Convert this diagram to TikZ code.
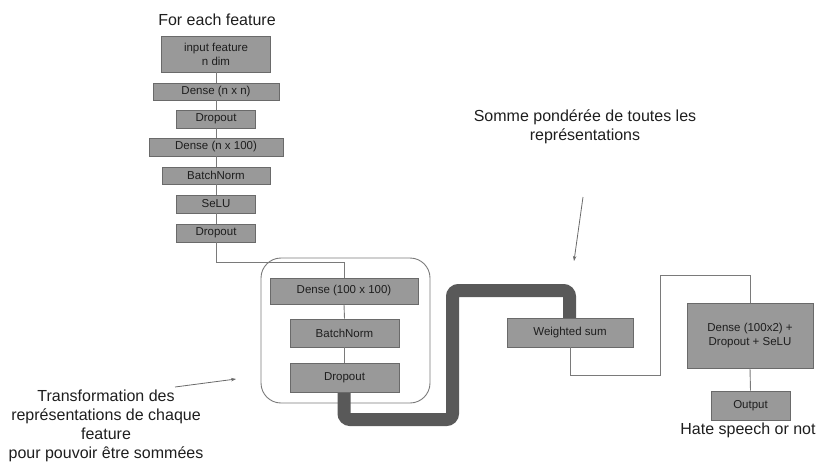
\documentclass[tikz,border=0pt]{standalone}
\usepackage{fontspec}
\setmainfont{Liberation Sans}
\usetikzlibrary{arrows.meta}
\definecolor{boxfill}{HTML}{999999}
\definecolor{boxedge}{HTML}{6A6A6A}
\definecolor{wire}{HTML}{7A7A7A}
\definecolor{thick}{HTML}{595959}
\definecolor{ink}{HTML}{1E1E1E}
\tikzset{
  blk/.style={draw=boxedge, fill=boxfill, line width=0.8pt, inner sep=0pt,
    text=ink, font=\fontsize{11.5}{14}\selectfont, align=center},
  wirel/.style={draw=wire, line width=0.9pt},
  flow/.style={draw=thick, line width=13pt, rounded corners=6pt},
  note/.style={text=ink, font=\fontsize{16}{19}\selectfont, align=center},
  pointer/.style={draw=boxedge, line width=0.8pt, -{Stealth[length=5pt,width=3.5pt]}}
}
\begin{document}
\begin{tikzpicture}[x=1pt,y=-1pt]
\useasboundingbox (0,0) rectangle (821,461);

% per-feature branch
\node[note] (title) at (217,20) {For each feature};
\node[blk, minimum width=109pt, minimum height=36pt] (in) at (216,54) {input feature\\n dim};
\node[blk, minimum width=126pt, minimum height=17pt] (d1) at (216,91.5) {Dense (n x n)};
\node[blk, minimum width=79pt, minimum height=18pt] (dr1) at (216,119) {Dropout};
\node[blk, minimum width=134pt, minimum height=18pt] (d2) at (216,147) {Dense (n x 100)};
\node[blk, minimum width=108pt, minimum height=17pt] (bn1) at (216,175.5) {BatchNorm};
\node[blk, minimum width=79pt, minimum height=18pt] (selu) at (216,204) {SeLU};
\node[blk, minimum width=79pt, minimum height=18pt] (dr2) at (216,233) {Dropout};
\foreach \a/\b in {in/d1, d1/dr1, dr1/d2, d2/bn1, bn1/selu, selu/dr2}
  \draw[wirel] (\a.south) -- (\b.north);

% shared transformation block
\draw[draw=wire, line width=0.9pt, rounded corners=20pt] (261,258) rectangle (430,403);
\coordinate (c1) at (216,262);
\coordinate (c2) at (344,262);
\draw[wirel] (dr2.south) -- (c1) -- (c2) -- (344,278);

% thick path from the block to the weighted sum
\coordinate (t1) at (344,419.5);
\coordinate (t2) at (452.5,419.5);
\coordinate (t3) at (452.5,290.5);
\coordinate (t4) at (569.5,290.5);
\draw[flow] (344,385) -- (t1) -- (t2) -- (t3) -- (t4) -- (569.5,325);

\node[blk, minimum width=148pt, minimum height=26pt] (d3) at (344,291) {Dense (100 x 100)};
\node[blk, minimum width=109pt, minimum height=28pt] (bn2) at (344.5,333) {BatchNorm};
\node[blk, minimum width=109pt, minimum height=29pt] (dr3) at (344.5,377.5) {Dropout};
\draw[wirel] (d3.south) -- (bn2.north);
\draw[wirel] (bn2.south) -- (dr3.north);

% aggregation and output
\node[blk, minimum width=126pt, minimum height=29pt] (ws) at (570,332.5) {Weighted sum};
\node[blk, minimum width=126pt, minimum height=65pt] (dx) at (750,335.5) {Dense (100x2) +\\Dropout + SeLU};
\node[blk, minimum width=79pt, minimum height=29pt] (out) at (750.5,405.5) {Output};
\coordinate (w1) at (570,375);
\coordinate (w2) at (660,375);
\coordinate (w3) at (660,275);
\coordinate (w4) at (750,275);
\draw[wirel] (ws.south) -- (w1) -- (w2) -- (w3) -- (w4) -- (dx.north);
\draw[wirel] (dx.south) -- (out.north);

% annotations
\node[note] (hate) at (748,430) {Hate speech or not};
\node[note] (somme) at (585,127) {Somme pondérée de toutes les\\représentations};
\node[note] (transf) at (106,426) {Transformation des\\représentations de chaque\\feature\\pour pouvoir être sommées};
\coordinate (a1) at (583,197);
\coordinate (a2) at (574,261);
\draw[pointer] (a1) -- (a2);
\coordinate (b1) at (175,387);
\coordinate (b2) at (236,379);
\draw[pointer] (b1) -- (b2);
\end{tikzpicture}
\end{document}
